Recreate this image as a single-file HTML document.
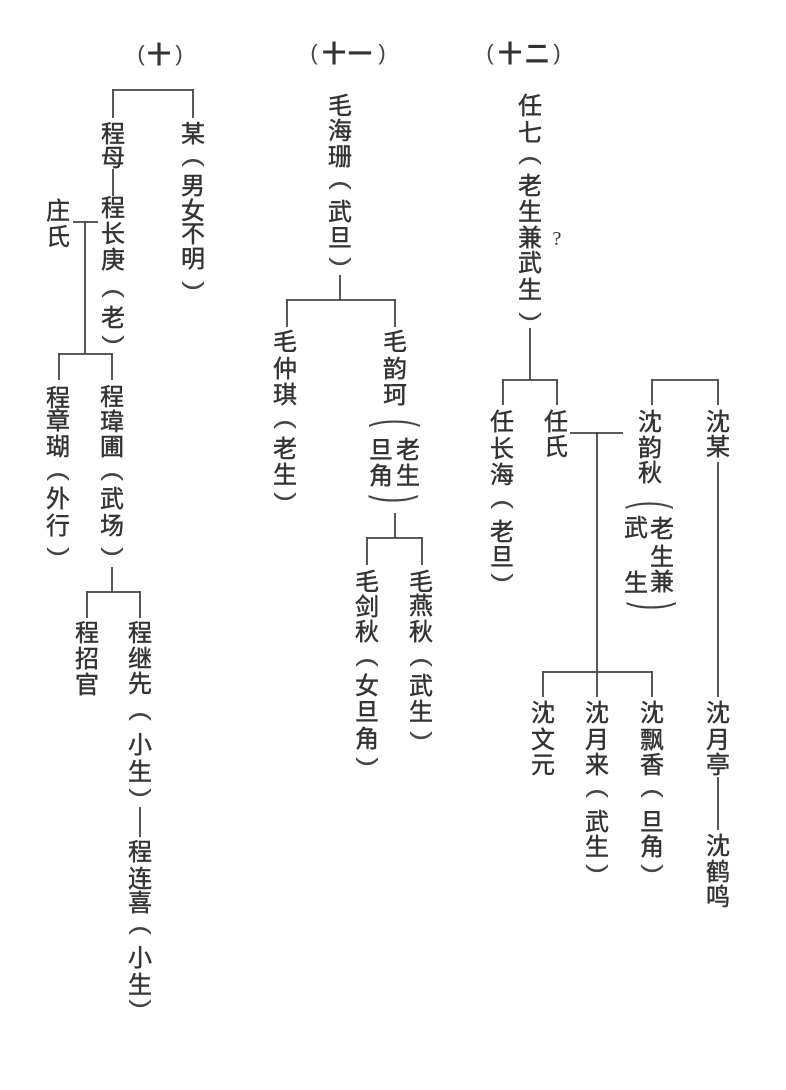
<!DOCTYPE html>
<html><head><meta charset="utf-8">
<style>
html,body{margin:0;padding:0;background:#fff;}
svg{display:block;}
.c{font-family:"Liberation Sans","Noto Sans CJK SC",sans-serif;font-size:24px;fill:#333;stroke:#333;stroke-width:0.45;text-anchor:middle;}
.t{font-family:"Liberation Sans","Noto Sans CJK SC",sans-serif;font-size:24px;font-weight:bold;fill:#333;text-anchor:middle;}
.p{font-family:"Liberation Sans",sans-serif;font-size:22px;fill:#444;text-anchor:middle;}
.q{font-family:"Liberation Serif",serif;font-size:20px;fill:#333;text-anchor:middle;}
line{stroke:#444;stroke-width:1.8;}
</style></head>
<body>
<svg width="786" height="1090" viewBox="0 0 786 1090" xmlns="http://www.w3.org/2000/svg">
<!-- titles -->
<text class="p" x="141" y="61">(</text><text class="t" x="159" y="63">十</text><text class="p" x="179" y="61">)</text>
<text class="p" x="314" y="60">(</text><text class="t" x="334" y="62">十</text><text class="t" x="360" y="62">一</text><text class="p" x="382" y="60">)</text>
<text class="p" x="490" y="60">(</text><text class="t" x="510" y="62">十</text><text class="t" x="537" y="62">二</text><text class="p" x="557" y="60">)</text>

<!-- ===== 十 ===== -->
<line x1="113" y1="90" x2="193" y2="90"/><line x1="113" y1="89" x2="113" y2="118"/><line x1="193" y1="89" x2="193" y2="118"/>
<text class="c" x="113" y="142">程</text><text class="c" x="113" y="166">母</text>
<line x1="113" y1="169" x2="113" y2="196"/>
<text class="c" x="113" y="216">程</text><text class="c" x="113" y="242">长</text><text class="c" x="113" y="268">庚</text>
<text class="p" transform="translate(113 293) rotate(90) scale(1.35 1.05)" y="5.7">(</text>
<text class="c" x="113" y="326">老</text>
<text class="p" transform="translate(113 340) rotate(90) scale(1.35 1.05)" y="5.7">)</text>

<text class="c" x="193" y="142">某</text>
<text class="p" transform="translate(193 162) rotate(90) scale(1.35 1.05)" y="5.7">(</text>
<text class="c" x="193" y="194">男</text><text class="c" x="193" y="219">女</text><text class="c" x="193" y="242">不</text><text class="c" x="193" y="267">明</text>
<text class="p" transform="translate(193 286) rotate(90) scale(1.35 1.05)" y="5.7">)</text>

<text class="c" x="58" y="219">庄</text><text class="c" x="58" y="245">氏</text>
<line x1="73" y1="222" x2="98" y2="222"/><line x1="85" y1="221" x2="85" y2="354"/>
<line x1="59" y1="354" x2="112" y2="354"/><line x1="59" y1="353" x2="59" y2="380"/><line x1="112" y1="353" x2="112" y2="380"/>

<text class="c" x="58" y="406">程</text><text class="c" x="58" y="429">章</text><text class="c" x="58" y="455">瑚</text>
<text class="p" transform="translate(58 476) rotate(90) scale(1.35 1.05)" y="5.7">(</text>
<text class="c" x="58" y="507">外</text><text class="c" x="58" y="534">行</text>
<text class="p" transform="translate(58 552) rotate(90) scale(1.35 1.05)" y="5.7">)</text>

<text class="c" x="112" y="405">程</text><text class="c" x="112" y="430">瑋</text><text class="c" x="112" y="455">圃</text>
<text class="p" transform="translate(112 476) rotate(90) scale(1.35 1.05)" y="5.7">(</text>
<text class="c" x="112" y="507">武</text><text class="c" x="112" y="534">场</text>
<text class="p" transform="translate(112 552) rotate(90) scale(1.35 1.05)" y="5.7">)</text>

<line x1="112" y1="567" x2="112" y2="592"/><line x1="87" y1="592" x2="140" y2="592"/>
<line x1="87" y1="591" x2="87" y2="618"/><line x1="140" y1="591" x2="140" y2="618"/>

<text class="c" x="87" y="641">程</text><text class="c" x="87" y="667">招</text><text class="c" x="87" y="693">官</text>

<text class="c" x="140" y="641">程</text><text class="c" x="140" y="667">继</text><text class="c" x="140" y="692">先</text>
<text class="p" transform="translate(140 716) rotate(90) scale(1.35 1.05)" y="5.7">(</text>
<text class="c" x="140" y="753">小</text><text class="c" x="140" y="780">生</text>
<text class="p" transform="translate(140 793) rotate(90) scale(1.35 1.05)" y="5.7">)</text>
<line x1="140" y1="807" x2="140" y2="837"/>
<text class="c" x="140" y="860">程</text><text class="c" x="140" y="887">连</text><text class="c" x="140" y="911">喜</text>
<text class="p" transform="translate(140 930) rotate(90) scale(1.35 1.05)" y="5.7">(</text>
<text class="c" x="140" y="966">小</text><text class="c" x="140" y="993">生</text>
<text class="p" transform="translate(140 1004) rotate(90) scale(1.35 1.05)" y="5.7">)</text>

<!-- ===== 十一 ===== -->
<text class="c" x="340" y="114">毛</text><text class="c" x="340" y="139">海</text><text class="c" x="340" y="165">珊</text>
<text class="p" transform="translate(340 185) rotate(90) scale(1.35 1.05)" y="5.7">(</text>
<text class="c" x="340" y="220">武</text><text class="c" x="340" y="246">旦</text>
<text class="p" transform="translate(340 262) rotate(90) scale(1.35 1.05)" y="5.7">)</text>
<line x1="340" y1="275" x2="340" y2="300"/><line x1="287" y1="300" x2="395" y2="300"/>
<line x1="287" y1="299" x2="287" y2="327"/><line x1="395" y1="299" x2="395" y2="327"/>

<text class="c" x="285" y="350">毛</text><text class="c" x="285" y="377">仲</text><text class="c" x="285" y="403">琪</text>
<text class="p" transform="translate(285 424) rotate(90) scale(1.35 1.05)" y="5.7">(</text>
<text class="c" x="285" y="457">老</text><text class="c" x="285" y="483">生</text>
<text class="p" transform="translate(285 497) rotate(90) scale(1.35 1.05)" y="5.7">)</text>

<text class="c" x="395" y="350">毛</text><text class="c" x="395" y="377">韵</text><text class="c" x="395" y="403">珂</text>
<text class="p" transform="translate(395 423) rotate(90) scale(1.1 2.5)" y="5.7">(</text>
<text class="c" x="408" y="458">老</text><text class="c" x="408" y="484">生</text>
<text class="c" x="381" y="458">旦</text><text class="c" x="381" y="484">角</text>
<text class="p" transform="translate(393 499) rotate(90) scale(1.1 2.4)" y="5.7">)</text>
<line x1="395" y1="513" x2="395" y2="538"/><line x1="367" y1="538" x2="422" y2="538"/>
<line x1="367" y1="537" x2="367" y2="565"/><line x1="422" y1="537" x2="422" y2="565"/>

<text class="c" x="367" y="590">毛</text><text class="c" x="367" y="615">剑</text><text class="c" x="367" y="640">秋</text>
<text class="p" transform="translate(367 662) rotate(90) scale(1.35 1.05)" y="5.7">(</text>
<text class="c" x="367" y="694">女</text><text class="c" x="367" y="720">旦</text><text class="c" x="367" y="747">角</text>
<text class="p" transform="translate(367 762) rotate(90) scale(1.35 1.05)" y="5.7">)</text>

<text class="c" x="421" y="590">毛</text><text class="c" x="421" y="614">燕</text><text class="c" x="421" y="640">秋</text>
<text class="p" transform="translate(421 662) rotate(90) scale(1.35 1.05)" y="5.7">(</text>
<text class="c" x="421" y="694">武</text><text class="c" x="421" y="720">生</text>
<text class="p" transform="translate(421 736) rotate(90) scale(1.35 1.05)" y="5.7">)</text>

<!-- ===== 十二 ===== -->
<text class="c" x="530" y="114">任</text><text class="c" x="530" y="141">七</text>
<text class="p" transform="translate(530 160) rotate(90) scale(1.35 1.05)" y="5.7">(</text>
<text class="c" x="530" y="194">老</text><text class="c" x="530" y="220">生</text><text class="c" x="530" y="246">兼</text><text class="c" x="530" y="271">武</text><text class="c" x="530" y="298">生</text>
<text class="p" transform="translate(530 317) rotate(90) scale(1.35 1.05)" y="5.7">)</text>
<text class="q" x="557" y="245">?</text>
<line x1="530" y1="328" x2="530" y2="380"/><line x1="503" y1="380" x2="557" y2="380"/>
<line x1="503" y1="379" x2="503" y2="405"/><line x1="557" y1="379" x2="557" y2="405"/>

<text class="c" x="502" y="430">任</text><text class="c" x="502" y="457">长</text><text class="c" x="502" y="483">海</text>
<text class="p" transform="translate(502 504) rotate(90) scale(1.35 1.05)" y="5.7">(</text>
<text class="c" x="502" y="540">老</text><text class="c" x="502" y="565">旦</text>
<text class="p" transform="translate(502 578) rotate(90) scale(1.35 1.05)" y="5.7">)</text>

<text class="c" x="556" y="430">任</text><text class="c" x="556" y="455">氏</text>
<line x1="570" y1="433" x2="623" y2="433"/><line x1="597" y1="432" x2="597" y2="697"/>

<line x1="652" y1="380" x2="718" y2="380"/><line x1="652" y1="379" x2="652" y2="405"/><line x1="718" y1="379" x2="718" y2="405"/>
<text class="c" x="650" y="430">沈</text><text class="c" x="650" y="456">韵</text><text class="c" x="650" y="481">秋</text>
<text class="p" transform="translate(649 505) rotate(90) scale(1.1 2.3)" y="5.7">(</text>
<text class="c" x="662" y="537">老</text><text class="c" x="662" y="565">生</text><text class="c" x="662" y="590">兼</text>
<text class="c" x="636" y="536">武</text><text class="c" x="636" y="591">生</text>
<text class="p" transform="translate(651 606) rotate(90) scale(1.1 2.4)" y="5.7">)</text>

<text class="c" x="718" y="430">沈</text><text class="c" x="718" y="455">某</text>
<line x1="718" y1="462" x2="718" y2="697"/>

<line x1="543" y1="672" x2="652" y2="672"/><line x1="543" y1="671" x2="543" y2="697"/><line x1="652" y1="671" x2="652" y2="697"/>

<text class="c" x="543" y="721">沈</text><text class="c" x="543" y="748">文</text><text class="c" x="543" y="773">元</text>

<text class="c" x="597" y="721">沈</text><text class="c" x="597" y="748">月</text><text class="c" x="597" y="773">来</text>
<text class="p" transform="translate(597 793) rotate(90) scale(1.35 1.05)" y="5.7">(</text>
<text class="c" x="597" y="830">武</text><text class="c" x="597" y="855">生</text>
<text class="p" transform="translate(597 869) rotate(90) scale(1.35 1.05)" y="5.7">)</text>

<text class="c" x="652" y="721">沈</text><text class="c" x="652" y="748">飘</text><text class="c" x="652" y="773">香</text>
<text class="p" transform="translate(652 793) rotate(90) scale(1.35 1.05)" y="5.7">(</text>
<text class="c" x="652" y="830">旦</text><text class="c" x="652" y="855">角</text>
<text class="p" transform="translate(652 869) rotate(90) scale(1.35 1.05)" y="5.7">)</text>

<text class="c" x="718" y="721">沈</text><text class="c" x="718" y="748">月</text><text class="c" x="718" y="773">亭</text>
<line x1="718" y1="777" x2="718" y2="830"/>
<text class="c" x="718" y="854">沈</text><text class="c" x="718" y="880">鹤</text><text class="c" x="718" y="905">鸣</text>
</svg>
</body></html>
